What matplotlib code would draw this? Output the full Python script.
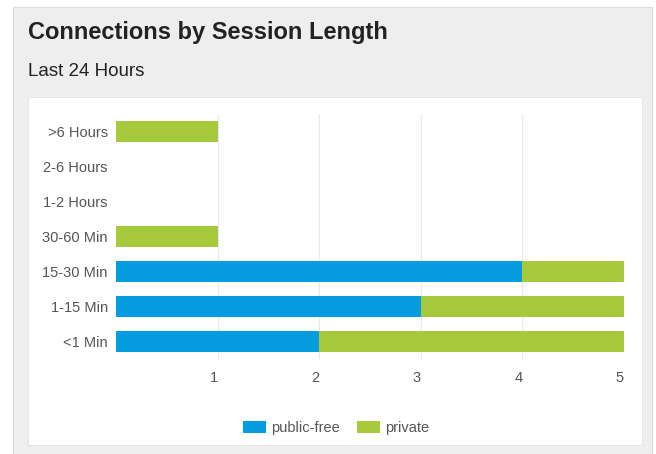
import matplotlib
matplotlib.use("Agg")
import matplotlib.pyplot as plt
from matplotlib.patches import Rectangle

plt.rcParams['font.family'] = ['Liberation Sans', 'DejaVu Sans']

categories = ["<1 Min", "1-15 Min", "15-30 Min", "30-60 Min", "1-2 Hours", "2-6 Hours", ">6 Hours"]
public_free = [2, 3, 4, 0, 0, 0, 0]
private = [3, 2, 1, 1, 0, 0, 1]
x_ticks = [1, 2, 3, 4, 5]

BLUE = "#069de0"
GREEN = "#a7c93c"

fig = plt.figure(figsize=(6.56, 4.54), dpi=100)
fig.patch.set_facecolor("white")

W, H = 656, 454


def px_rect(x0, y0, x1, y1, **kw):
    return Rectangle((x0 / W, 1 - y1 / H), (x1 - x0) / W, (y1 - y0) / H,
                     transform=fig.transFigure, **kw)


# grey panel and white card
fig.patches.append(px_rect(13, 7, 652, 456, facecolor="#eeeeee", edgecolor="#d8dee4",
                           linewidth=0.8, zorder=-10))
fig.patches.append(px_rect(28, 97, 642, 445, facecolor="white", edgecolor="#e4e4e4",
                           linewidth=0.6, zorder=-9))

fig.text(28 / W, 1 - 33 / H, "Connections by Session Length", fontsize=17, fontweight="bold",
         color="#222222", va="center", ha="left")
fig.text(28 / W, 1 - 71 / H, "Last 24 Hours", fontsize=13.5, color="#222222", va="center", ha="left")

ax = fig.add_axes([116 / W, 1 - 359 / H, (624 - 116) / W, (359 - 114) / H], zorder=2)
ax.set_facecolor("none")

y = list(range(len(categories)))
b1 = ax.barh(y, public_free, height=0.6, color=BLUE, label="public-free", zorder=3)
b2 = ax.barh(y, private, left=public_free, height=0.6, color=GREEN, label="private", zorder=3)

ax.set_xlim(0, 5)
ax.set_ylim(-0.5, len(categories) - 0.5)
ax.set_yticks(y)
ax.set_yticklabels(categories, fontsize=10.5, color="#555555")
ax.set_xticks(x_ticks)
ax.set_xticklabels([str(t) for t in x_ticks], fontsize=10.5, color="#555555")
ax.tick_params(axis="both", length=0, pad=6)
ax.tick_params(axis="x", pad=9)
for lbl in ax.get_xticklabels():
    lbl.set_horizontalalignment("right")
ax.grid(axis="x", color="#e8e8e8", linewidth=0.8, zorder=0)
for s in ax.spines.values():
    s.set_visible(False)

leg = fig.legend(handles=[b1, b2], labels=["public-free", "private"], loc="center",
                 bbox_to_anchor=(336 / W, 1 - 428 / H), ncol=2, frameon=False,
                 fontsize=10.5, handlelength=1.6, handleheight=0.9, columnspacing=1.2,
                 handletextpad=0.3)
for t in leg.get_texts():
    t.set_color("#555555")

fig.savefig("out.png", dpi=100)
